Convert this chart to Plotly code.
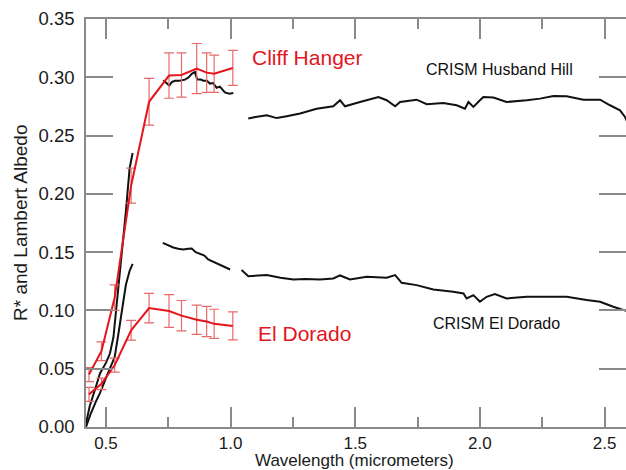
import plotly.graph_objects as go

# ---- Pancam multispectral data (red, with error bars) ----
pancam_wl = [0.432, 0.482, 0.535, 0.601, 0.673, 0.753, 0.803, 0.864, 0.904, 0.934, 1.009]
cliff_hanger = [0.045, 0.065, 0.111, 0.207, 0.279, 0.3015, 0.302, 0.3075, 0.304, 0.303, 0.308]
cliff_hanger_err = [0.006, 0.008, 0.011, 0.015, 0.020, 0.0195, 0.019, 0.0215, 0.017, 0.016, 0.015]
el_dorado = [0.028, 0.037, 0.053, 0.083, 0.102, 0.0995, 0.0955, 0.092, 0.0905, 0.0885, 0.0867]
el_dorado_err = [0.006, 0.005, 0.006, 0.0085, 0.0126, 0.014, 0.013, 0.0126, 0.013, 0.0125, 0.012]

# ---- CRISM Husband Hill (black) ----
hh_vis_wl = [0.420, 0.435, 0.456, 0.476, 0.500, 0.516, 0.530, 0.550, 0.565, 0.580, 0.595, 0.607]
hh_vis = [0.003, 0.018, 0.032, 0.046, 0.055, 0.063, 0.077, 0.120, 0.150, 0.185, 0.222, 0.235]
hh_nir_wl = [0.730, 0.742, 0.754, 0.765, 0.777, 0.795, 0.817, 0.832, 0.844, 0.857, 0.866,
             0.880, 0.891, 0.905, 0.917, 0.930, 0.944, 0.957, 0.968, 0.977, 0.995, 1.011]
hh_nir = [0.2974, 0.295, 0.293, 0.296, 0.297, 0.297, 0.298, 0.300, 0.303, 0.3046, 0.298,
          0.298, 0.297, 0.297, 0.2946, 0.295, 0.291, 0.292, 0.289, 0.287, 0.286, 0.2866]
hh_ir_wl = [1.071, 1.10, 1.145, 1.185, 1.225, 1.279, 1.345, 1.412, 1.439, 1.459, 1.519, 1.593,
            1.626, 1.660, 1.680, 1.746, 1.787, 1.853, 1.907, 1.940, 1.954, 1.974, 2.000, 2.014,
            2.054, 2.107, 2.188, 2.241, 2.295, 2.348, 2.415, 2.482, 2.522, 2.562, 2.582, 2.59]
hh_ir = [0.2646, 0.266, 0.2674, 0.265, 0.2666, 0.2689, 0.273, 0.2751, 0.2803, 0.2751, 0.2788, 0.2831,
         0.2803, 0.2751, 0.2788, 0.2808, 0.2769, 0.278, 0.276, 0.2731, 0.2788, 0.2746, 0.2803, 0.2831,
         0.2826, 0.2788, 0.2803, 0.2817, 0.284, 0.2837, 0.2808, 0.2808, 0.276, 0.2717, 0.266, 0.262]

# ---- CRISM El Dorado (black) ----
ed_vis_wl = [0.420, 0.440, 0.460, 0.476, 0.500, 0.516, 0.535, 0.550, 0.565, 0.580, 0.595, 0.607]
ed_vis = [0.000, 0.012, 0.022, 0.029, 0.042, 0.051, 0.060, 0.080, 0.100, 0.122, 0.134, 0.140]
ed_nir_wl = [0.728, 0.750, 0.770, 0.790, 0.810, 0.830, 0.844, 0.860, 0.877, 0.895, 0.910,
             0.928, 0.944, 0.960, 0.971, 0.985, 0.998]
ed_nir = [0.158, 0.156, 0.154, 0.153, 0.1523, 0.153, 0.1532, 0.150, 0.1483, 0.147, 0.1437,
          0.142, 0.1403, 0.139, 0.138, 0.1365, 0.1351]
ed_ir_wl = [1.044, 1.071, 1.145, 1.200, 1.252, 1.300, 1.358, 1.412, 1.439, 1.479, 1.546, 1.626,
            1.660, 1.686, 1.746, 1.813, 1.893, 1.934, 1.947, 1.974, 2.000, 2.027, 2.060, 2.107,
            2.188, 2.268, 2.348, 2.428, 2.482, 2.535, 2.582, 2.59]
ed_ir = [0.1346, 0.1294, 0.1303, 0.128, 0.1266, 0.127, 0.1266, 0.1274, 0.130, 0.1266, 0.1288, 0.128,
         0.1303, 0.1237, 0.1217, 0.118, 0.116, 0.1146, 0.1103, 0.1131, 0.1074, 0.1117, 0.114, 0.1103,
         0.1117, 0.1117, 0.1117, 0.1089, 0.1074, 0.1031, 0.1003, 0.0995]

# ---- text labels: (text, x, y, colour, size) ----
labels = [
    ("Cliff Hanger", 1.3085, 0.3171, "#e3151d", 21),
    ("El Dorado", 1.2984, 0.0803, "#e3151d", 21),
    ("CRISM Husband Hill", 2.0786, 0.3066, "#111111", 16),
    ("CRISM El Dorado", 2.0674, 0.0889, "#111111", 16),
]
x_title = "Wavelength (micrometers)"
y_title = "R* and Lambert Albedo"

RED = "#e3151d"
ERR = "#e86a6a"
BLACK = "#111111"
AX = "#8a8a8a"
TXT = "#1a1a1a"

fig = go.Figure()

for wl, vals in [(hh_vis_wl, hh_vis), (hh_nir_wl, hh_nir), (hh_ir_wl, hh_ir),
                 (ed_vis_wl, ed_vis), (ed_nir_wl, ed_nir), (ed_ir_wl, ed_ir)]:
    fig.add_trace(go.Scatter(x=wl, y=vals, mode="lines",
                             line=dict(color=BLACK, width=2), showlegend=False,
                             hoverinfo="skip"))

for vals, err in [(cliff_hanger, cliff_hanger_err), (el_dorado, el_dorado_err)]:
    fig.add_trace(go.Scatter(x=pancam_wl, y=vals, mode="lines",
                             line=dict(color=RED, width=2),
                             error_y=dict(type="data", array=err, visible=True,
                                          color=ERR, thickness=1.2, width=5),
                             showlegend=False))

for text, x, y, col, size in labels:
    fig.add_annotation(x=x, y=y, text=text, showarrow=False, xanchor="center",
                       yanchor="middle",
                       font=dict(size=size, color=col))

# axis titles
fig.add_annotation(xref="paper", yref="paper", x=0.4963, y=-0.0818, text=x_title,
                   showarrow=False, xanchor="center", yanchor="middle", borderpad=0,
                   font=dict(size=17, color=TXT))
fig.add_annotation(xref="paper", yref="paper", x=-0.1222, y=0.5, text=y_title,
                   showarrow=False, xanchor="center", yanchor="middle", textangle=-90,
                   font=dict(size=19, color=TXT))

fig.update_xaxes(range=[0.42, 2.586], tickvals=[0.5, 1.0, 1.5, 2.0, 2.5],
                 ticktext=["0.5", "1.0", "1.5", "2.0", "2.5"],
                 ticks="inside", ticklen=20, tickwidth=1.5, tickcolor=AX,
                 minor=dict(dtick=0.25, tick0=0, ticks="inside", ticklen=10,
                            tickwidth=1.5, tickcolor=AX, showgrid=False),
                 showline=True, linecolor=AX, linewidth=1.5, mirror="ticks",
                 showgrid=False, zeroline=False, automargin=False,
                 ticklabelstandoff=0,
                 tickfont=dict(size=17, color=TXT))
fig.update_yaxes(range=[0, 0.35], tickvals=[0, 0.05, 0.1, 0.15, 0.2, 0.25, 0.3, 0.35],
                 ticktext=["0.00", "0.05", "0.10", "0.15", "0.20", "0.25", "0.30", "0.35"],
                 ticks="inside", ticklen=27, tickwidth=1.5, tickcolor=AX,
                 showline=True, linecolor=AX, linewidth=1.5, mirror="ticks",
                 showgrid=False, zeroline=False, ticklabelstandoff=6, automargin=False,
                 tickfont=dict(size=18.5, color=TXT))

fig.update_layout(width=626, height=470, margin=dict(l=86, r=0, t=19, b=43, autoexpand=False),
                  plot_bgcolor="white", paper_bgcolor="white",
                  font=dict(family="Liberation Sans, Arial, sans-serif"))

fig.write_html("out.html", config={"displayModeBar": False},
               post_script="document.body.style.margin='0';document.body.style.overflow='hidden';")
